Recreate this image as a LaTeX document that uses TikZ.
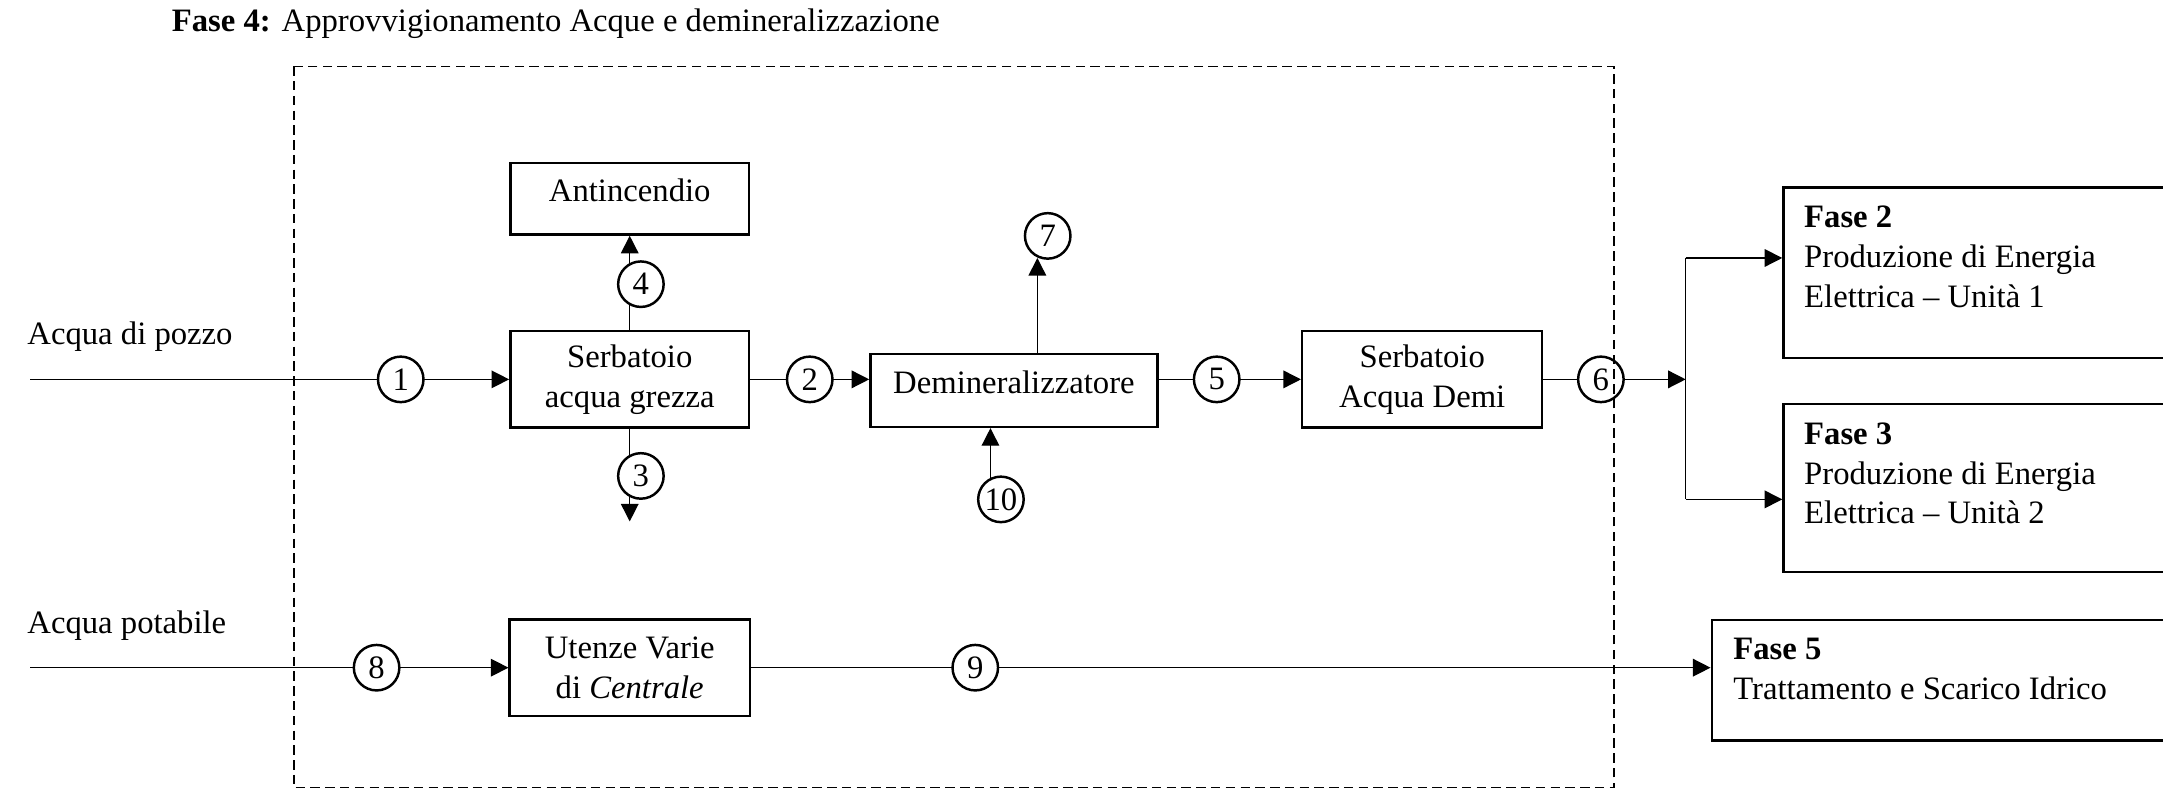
\documentclass[tikz,border=0pt]{standalone}
\usepackage{fontspec}
\setmainfont{Liberation Serif}
\usetikzlibrary{arrows.meta}
\usetikzlibrary{backgrounds}
\tikzset{flow/.style = {-{Triangle[length=5pt, width=5pt]}}}
\tikzset{block/.style = {draw, align=center, inner sep=0}}
\tikzset{tag/.style = {draw, circle, fill=white, inner sep=0, minimum size=0.455cm}}
\tikzset{phase/.style = {draw, anchor=north west, inner sep=0}}
\tikzset{phasetext/.style = {anchor=north west, align=left, inner sep=0}}
\tikzset{caption/.style = {anchor=base west, inner sep=0}}
\tikzset{border/.style = {dash pattern=on 2.7pt off 1.5pt}}

\begin{document}
\begin{tikzpicture}[x=0.013795cm, y=-0.013795cm, line width=0.7pt,
                    font=\fontsize{9.3}{11.3}\selectfont]
      \useasboundingbox (0, 0) rectangle (1568, 573);

      \node [caption] (title) at (123.7, 23)
        {\textbf{Fase 4:} Approvvigionamento Acque e demineralizzazione};
      \node [caption] (pozzo) at (19, 250) {Acqua di pozzo};
      \node [caption] (potabile) at (19, 459) {Acqua potabile};

      \node [block, minimum width=2.387cm, minimum height=0.717cm, text depth=4.8pt] (anti) at (456.5, 144) {Antincendio};
      \node [block, minimum width=2.387cm, minimum height=0.966cm] (grezza) at (456.5, 275) {Serbatoio\\acqua grezza};
      \node [block, minimum width=2.869cm, minimum height=0.730cm, text depth=4.8pt] (demin) at (735, 283) {Demineralizzatore};
      \node [block, minimum width=2.400cm, minimum height=0.966cm] (demi) at (1031, 275) {Serbatoio\\Acqua Demi};
      \node [block, minimum width=2.400cm, minimum height=0.966cm] (utenze) at (456.5, 484) {Utenze Varie\\di \textit{Centrale}};

      \node [phase, minimum width=3.973cm, minimum height=1.705cm] (fase2) at (1292, 135) {};
      \node [phase, minimum width=3.973cm, minimum height=1.679cm] (fase3) at (1292, 292) {};
      \node [phase, minimum width=4.690cm, minimum height=1.207cm] (fase5) at (1240, 448.5) {};
      \node [phasetext] (fase2txt) at (1307, 148.5) {\textbf{Fase 2}\\Produzione di Energia\\Elettrica – Unità 1};
      \node [phasetext] (fase3txt) at (1307, 305.5) {\textbf{Fase 3}\\Produzione di Energia\\Elettrica – Unità 2};
      \node [phasetext] (fase5txt) at (1255.6, 462) {\textbf{Fase 5}\\Trattamento e Scarico Idrico};

      \node [tag] (n1) at (290.5, 275) {1};
      \node [tag] (n2) at (587, 275) {2};
      \node [tag] (n3) at (464.6, 345) {3};
      \node [tag] (n4) at (464.6, 206) {4};
      \node [tag] (n5) at (882, 275) {5};
      \node [tag] (n6) at (1160.5, 275) {6};
      \node [tag] (n7) at (759.5, 171) {7};
      \node [tag] (n8) at (273, 484) {8};
      \node [tag] (n9) at (707, 484) {9};
      \node [tag] (n10) at (725.6, 362) {10};

      \coordinate (in1) at (22, 275);
      \coordinate (in8) at (22, 484);
      \coordinate (out3) at (456.5, 378);
      \coordinate (t7) at (752, 187);
      \coordinate (s10) at (718, 362);
      \coordinate (j6) at (1222, 275);
      \coordinate (b2) at (1222, 187);
      \coordinate (b3) at (1222, 362);

      \begin{pgfonlayer}{background}
        \draw [flow] (in1) -- (in1 -| grezza.west);
        \draw [flow] (grezza.east) -- (grezza.east -| demin.west);
        \draw [flow] (demin.east |- demi.west) -- (demi.west);
        \draw [flow] (demi.east) -- (j6);
        \draw [flow] (grezza.north) -- (anti.south);
        \draw [flow] (grezza.south) -- (out3);
        \draw [flow] (s10) -- (s10 |- demin.south);
        \draw [flow] (in8) -- (in8 -| utenze.west);
        \draw [flow] (utenze.east) -- (utenze.east -| fase5.west);
      \end{pgfonlayer}

      \draw [flow] (demin.north -| t7) -- (t7);
      \draw (b2) -- (b3);
      \draw [flow] (b2) -- (b2 -| fase2.west);
      \draw [flow] (b3) -- (b3 -| fase3.west);

      \draw [border] (213, 48) rectangle (1170, 571);
    \end{tikzpicture}
\end{document}
